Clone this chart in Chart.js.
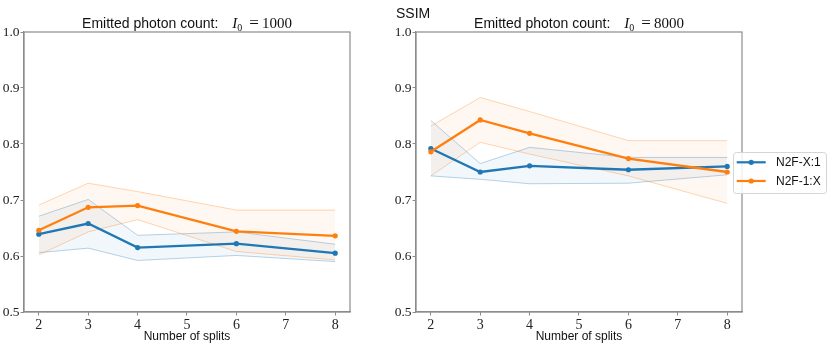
<!DOCTYPE html>
<html lang="en">
<head>
<meta charset="UTF-8">
<title>SSIM vs number of splits</title>
<script src="https://cdn.jsdelivr.net/npm/chart.js"></script>
<style>
  body { margin: 0; background: #fff; }
  #wrap { position: relative; width: 831px; height: 346px; }
  canvas { position: absolute; top: 0; }
</style>
</head>
<body>
<div id="wrap">
  <canvas id="left" width="390" height="346" style="left:0"></canvas>
  <canvas id="right" width="441" height="346" style="left:390px"></canvas>
</div>
<script>
// x values and ticks
const splitCounts = [2, 3, 4, 6, 8];
const xTicks = [2, 3, 4, 5, 6, 7, 8];
const yTicks = [0.5, 0.6, 0.7, 0.8, 0.9, 1.0];
const photonCounts = ['1000', '8000'];
const seriesNames = ['N2F-X:1', 'N2F-1:X'];

// I0 = 1000
const x1Mean1000 = [0.639, 0.658, 0.615, 0.622, 0.605];
const x1Low1000 = [0.606, 0.614, 0.592, 0.601, 0.590];
const x1High1000 = [0.671, 0.701, 0.637, 0.643, 0.621];
const oneXMean1000 = [0.646, 0.687, 0.690, 0.644, 0.636];
const oneXLow1000 = [0.602, 0.643, 0.665, 0.608, 0.593];
const oneXHigh1000 = [0.691, 0.730, 0.715, 0.682, 0.682];

// I0 = 8000
const x1Mean8000 = [0.792, 0.750, 0.761, 0.754, 0.760];
const x1Low8000 = [0.743, 0.737, 0.729, 0.730, 0.745];
const x1High8000 = [0.842, 0.765, 0.794, 0.776, 0.776];
const oneXMean8000 = [0.786, 0.843, 0.819, 0.774, 0.750];
const oneXLow8000 = [0.743, 0.803, 0.782, 0.743, 0.694];
const oneXHigh8000 = [0.832, 0.883, 0.858, 0.806, 0.806];

const BLUE = '#1f77b4';
const ORANGE = '#ff7f0e';
const SERIF = '"Liberation Serif", "DejaVu Serif", serif';
const SANS = '"Liberation Sans", Arial, sans-serif';

const pts = arr => splitCounts.map((s, i) => ({ x: s, y: arr[i] }));

function meanLine(label, arr, color, order) {
  return {
    label: label, data: pts(arr), borderColor: color, backgroundColor: color,
    borderWidth: 2.3, pointRadius: 2.6, pointBorderWidth: 0, pointHoverRadius: 2.6,
    fill: false, order: order
  };
}
function bandEdge(arr, rgb, order, fill) {
  return {
    label: '', data: pts(arr), borderColor: 'rgba(' + rgb + ',0.4)', borderWidth: 0.8,
    pointRadius: 0, fill: fill ? '-1' : false,
    backgroundColor: 'rgba(' + rgb + ',0.06)', order: order
  };
}

function makeDatasets(xm, xl, xh, om, ol, oh) {
  return [
    meanLine(seriesNames[0], xm, BLUE, 1),
    meanLine(seriesNames[1], om, ORANGE, 0),
    bandEdge(xh, '31,119,180', 3, false),
    bandEdge(xl, '31,119,180', 3, true),
    bandEdge(oh, '255,127,14', 2, false),
    bandEdge(ol, '255,127,14', 2, true)
  ];
}

// frame, title, optional figure label and legend
const panelDeco = {
  id: 'panelDeco',
  afterDraw(chart, args, opts) {
    const { ctx, chartArea: a } = chart;
    ctx.save();
    ctx.strokeStyle = '#8c8c8c';
    ctx.lineWidth = 1.2;
    ctx.strokeRect(a.left, a.top, a.right - a.left, a.bottom - a.top);

    // title with math part
    const parts = [
      { t: 'Emitted photon count:', f: '14px ' + SANS, gap: 14, dy: 0 },
      { t: 'I', f: 'italic 15px ' + SERIF, gap: 0, dy: 0 },
      { t: '0', f: '10px ' + SERIF, gap: 7, dy: 3 },
      { t: '=', f: '17px ' + SERIF, gap: 3, dy: 0 },
      { t: opts.count, f: '15px ' + SERIF, gap: 0, dy: 0 }
    ];
    let total = 0;
    parts.forEach(p => { ctx.font = p.f; p.w = ctx.measureText(p.t).width; total += p.w + p.gap; });
    let x = (a.left + a.right) / 2 - total / 2;
    ctx.fillStyle = '#111';
    ctx.textBaseline = 'alphabetic';
    ctx.textAlign = 'left';
    parts.forEach(p => { ctx.font = p.f; ctx.fillText(p.t, x, 27.5 + p.dy); x += p.w + p.gap; });

    if (opts.label) {
      ctx.font = '14px ' + SANS;
      ctx.fillText(opts.label, 6, 17.5);
    }

    if (opts.legend) {
      const bx = 343, by = 152, bw = 93, bh = 41;
      ctx.fillStyle = 'rgba(255,255,255,0.85)';
      ctx.strokeStyle = '#d5d5d5';
      ctx.lineWidth = 1;
      ctx.beginPath();
      ctx.roundRect(bx + 0.5, by + 0.5, bw, bh, 3);
      ctx.fill();
      ctx.stroke();
      const rows = chart.data.datasets.filter(d => d.label);
      rows.forEach((d, i) => {
        const y = 162.3 + i * 18.7;
        ctx.strokeStyle = d.borderColor;
        ctx.lineWidth = 2.2;
        ctx.beginPath();
        ctx.moveTo(346.7, y);
        ctx.lineTo(375.7, y);
        ctx.stroke();
        ctx.fillStyle = d.borderColor;
        ctx.beginPath();
        ctx.arc(361.2, y, 2.6, 0, Math.PI * 2);
        ctx.fill();
        ctx.fillStyle = '#111';
        ctx.font = '12px ' + SANS;
        ctx.textBaseline = 'middle';
        ctx.fillText(d.label, 386, y + 0.5);
      });
    }
    ctx.restore();
  }
};

function makeOptions(count, yWidth, rightPad, extra) {
  return {
    responsive: false,
    animation: false,
    layout: { padding: { left: 0, right: rightPad, top: 32, bottom: 0 } },
    plugins: {
      legend: { display: false },
      tooltip: { enabled: false },
      panelDeco: Object.assign({ count: count }, extra)
    },
    scales: {
      x: {
        type: 'linear', min: 1.7, max: 8.3,
        afterBuildTicks: s => { s.ticks = xTicks.map(v => ({ value: v })); },
        afterFit: s => { s.height = 34; },
        ticks: { font: { family: SERIF, size: 14 }, color: '#222', padding: 1, maxRotation: 0,
                 callback: v => String(v) },
        grid: { drawOnChartArea: false, drawTicks: true, tickLength: 3.5, color: '#8c8c8c' },
        border: { color: '#8c8c8c', width: 1.2 },
        title: { display: true, text: 'Number of splits', font: { family: SANS, size: 12 },
                 color: '#111', padding: { top: 0, bottom: 2 } }
      },
      y: {
        min: 0.5, max: 1.0,
        afterBuildTicks: s => { s.ticks = yTicks.map(v => ({ value: v })); },
        afterFit: s => { s.width = yWidth; },
        ticks: { font: { family: SERIF, size: 13.5 }, color: '#222', padding: 1,
                 callback: v => v.toFixed(1) },
        grid: { drawOnChartArea: false, drawTicks: true, tickLength: 3.5, color: '#8c8c8c' },
        border: { color: '#8c8c8c', width: 1.2 }
      }
    }
  };
}

new Chart(document.getElementById('left').getContext('2d'), {
  type: 'line',
  data: { datasets: makeDatasets(x1Mean1000, x1Low1000, x1High1000, oneXMean1000, oneXLow1000, oneXHigh1000) },
  options: makeOptions(photonCounts[0], 24, 40, {}),
  plugins: [panelDeco]
});

new Chart(document.getElementById('right').getContext('2d'), {
  type: 'line',
  data: { datasets: makeDatasets(x1Mean8000, x1Low8000, x1High8000, oneXMean8000, oneXLow8000, oneXHigh8000) },
  options: makeOptions(photonCounts[1], 26, 89, { label: 'SSIM', legend: true }),
  plugins: [panelDeco]
});
</script>
</body>
</html>
